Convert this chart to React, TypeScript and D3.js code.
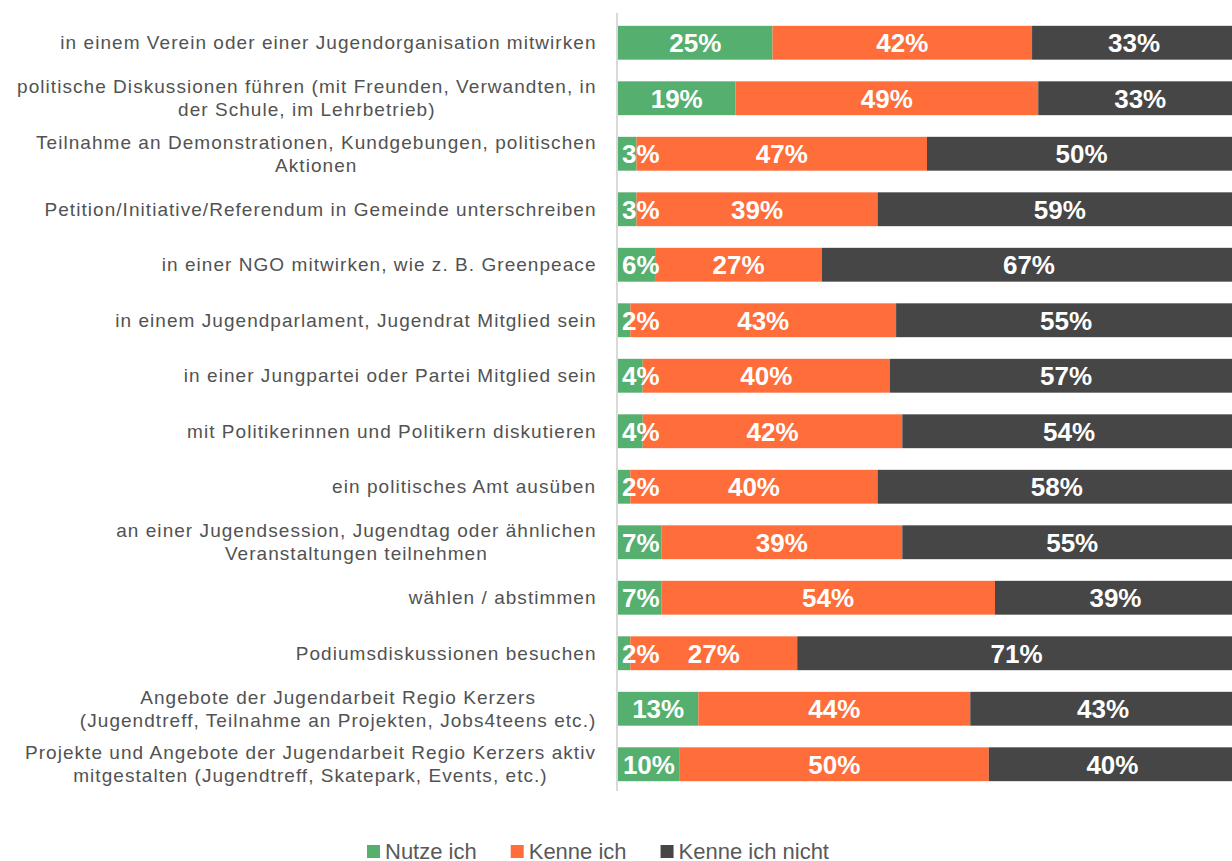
import React from 'react';
import * as d3 from 'd3';

// Survey answers per activity (percent), top to bottom as in the chart
const categories: string[][] = [
  ['in einem Verein oder einer Jugendorganisation mitwirken'],
  ['politische Diskussionen führen (mit Freunden, Verwandten, in', 'der Schule, im Lehrbetrieb)'],
  ['Teilnahme an Demonstrationen, Kundgebungen, politischen', 'Aktionen'],
  ['Petition/Initiative/Referendum in Gemeinde unterschreiben'],
  ['in einer NGO mitwirken, wie z. B. Greenpeace'],
  ['in einem Jugendparlament, Jugendrat Mitglied sein'],
  ['in einer Jungpartei oder Partei Mitglied sein'],
  ['mit Politikerinnen und Politikern diskutieren'],
  ['ein politisches Amt ausüben'],
  ['an einer Jugendsession, Jugendtag oder ähnlichen', 'Veranstaltungen teilnehmen'],
  ['wählen / abstimmen'],
  ['Podiumsdiskussionen besuchen'],
  ['Angebote der Jugendarbeit Regio Kerzers', '(Jugendtreff, Teilnahme an Projekten, Jobs4teens etc.)'],
  ['Projekte und Angebote der Jugendarbeit Regio Kerzers aktiv', 'mitgestalten (Jugendtreff, Skatepark, Events, etc.)'],
];

const nutzeIch = [25, 19, 3, 3, 6, 2, 4, 4, 2, 7, 7, 2, 13, 10];
const kenneIch = [42, 49, 47, 39, 27, 43, 40, 42, 40, 39, 54, 27, 44, 50];
const kenneIchNicht = [33, 33, 50, 59, 67, 55, 57, 54, 58, 55, 39, 71, 43, 40];

const seriesNames = ['Nutze ich', 'Kenne ich', 'Kenne ich nicht'];
const seriesColors = ['#55b06f', '#ff6d3a', '#464646'];

const W = 1232;
const H = 861;
const FONT = '"Liberation Sans", Arial, sans-serif';
const LABEL_SIZE = 19;
const LABEL_SPACING = 1.05;

let ctx: CanvasRenderingContext2D | null = null;
function textWidth(text: string, font: string, spacing = 0) {
  if (!ctx) ctx = document.createElement('canvas').getContext('2d');
  if (!ctx) return text.length * 9;
  ctx.font = font;
  return ctx.measureText(text).width + spacing * (text.length - 1);
}

export default function App() {
  const series = [nutzeIch, kenneIch, kenneIchNicht];
  const rows = categories.map((_, i) => ({
    idx: i,
    vals: series.map(s => s[i]),
  }));

  const x = d3.scaleLinear().domain([0, 100]).range([618, 1236]);
  const y = d3.scaleBand<number>()
    .domain(d3.range(categories.length))
    .range([15, 792])
    .paddingInner(0.39)
    .paddingOuter(0.195);

  const labelFont = `${LABEL_SIZE}px ${FONT}`;
  const valueFont = `bold 26px ${FONT}`;
  const labelRight = 596;
  const lineH = 23;

  // legend layout
  const legendFont = `22px ${FONT}`;
  let lx = 367;
  const legendItems = seriesNames.map((name, i) => {
    const item = { name, color: seriesColors[i], x: lx };
    lx += 13 + 5 + textWidth(name, legendFont) + 34;
    return item;
  });

  return (
    <svg width={W} height={H} style={{ position: 'absolute', left: 0, top: 0 }} fontFamily={FONT}>
      <rect width={W} height={H} fill="#fff" />

      {/* category labels: lines centered on each other, block right-aligned */}
      {rows.map(r => {
        const lines = categories[r.idx];
        const maxW = d3.max(lines, l => textWidth(l, labelFont, LABEL_SPACING)) || 0;
        const cx = labelRight - maxW / 2;
        const cy = (y(r.idx) || 0) + y.bandwidth() / 2;
        return (
          <text key={'l' + r.idx} fontSize={LABEL_SIZE} letterSpacing={LABEL_SPACING} fill="#525252" textAnchor="middle">
            {lines.map((l, j) => (
              <tspan key={j} x={cx} y={cy + (j - (lines.length - 1) / 2) * lineH} dy="0.35em">{l}</tspan>
            ))}
          </text>
        );
      })}

      {/* stacked bars */}
      {rows.map(r => {
        let acc = 0;
        return (
          <g key={'b' + r.idx}>
            {r.vals.map((v, k) => {
              const x0 = x(acc);
              acc += v;
              const x1 = x(acc);
              return (
                <rect key={k} x={x0} y={y(r.idx)} width={x1 - x0} height={y.bandwidth()} fill={seriesColors[k]} />
              );
            })}
          </g>
        );
      })}

      {/* value labels */}
      {rows.map(r => {
        let acc = 0;
        const cy = (y(r.idx) || 0) + y.bandwidth() / 2;
        return (
          <g key={'v' + r.idx}>
            {r.vals.map((v, k) => {
              const x0 = x(acc);
              acc += v;
              const x1 = x(acc);
              const label = `${v}%`;
              const w = textWidth(label, valueFont);
              const cx = Math.max((x0 + x1) / 2, x(0) + 4 + w / 2);
              return (
                <text key={k} x={cx} y={cy} dy="0.36em" textAnchor="middle" fill="#fff" fontWeight="bold" fontSize={26}>{label}</text>
              );
            })}
          </g>
        );
      })}

      {/* category axis line */}
      <line x1={617} x2={617} y1={13} y2={791} stroke="#d9d9d9" strokeWidth={2} />

      {/* legend */}
      {legendItems.map(it => (
        <g key={it.name}>
          <rect x={it.x} y={845} width={13} height={13} fill={it.color} />
          <text x={it.x + 18} y={859} fontSize={22} fill="#595959">{it.name}</text>
        </g>
      ))}
    </svg>
  );
}
